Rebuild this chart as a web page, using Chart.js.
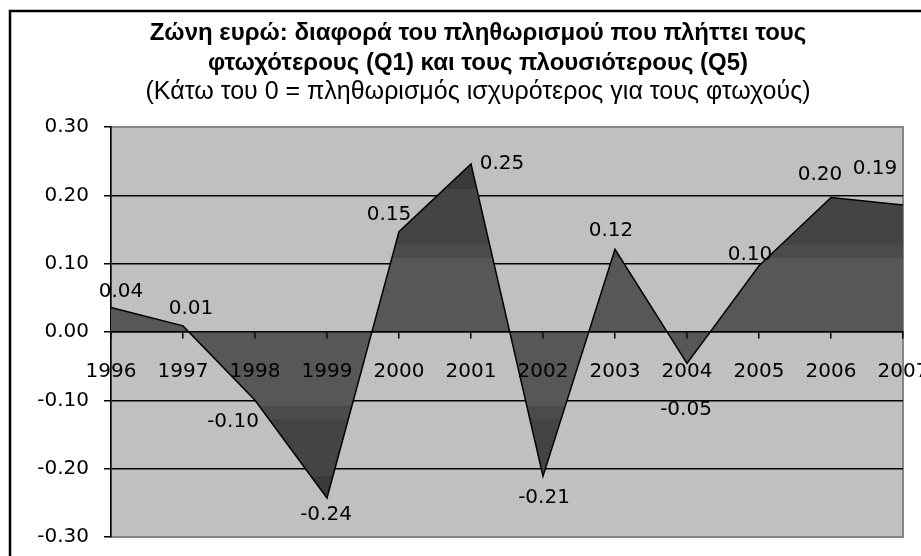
<!DOCTYPE html>
<html>
<head>
<meta charset="utf-8">
<script src="https://cdn.jsdelivr.net/npm/chart.js@4.4.1/dist/chart.umd.min.js"></script>
<style>
html, body { margin: 0; padding: 0; background: #fff; }
#wrap { width: 921px; height: 556px; position: relative; }
</style>
</head>
<body>
<div id="wrap"><canvas id="chart"></canvas></div>
<script>
// data
const years = ['1996', '1997', '1998', '1999', '2000', '2001', '2002', '2003', '2004', '2005', '2006', '2007'];
const gap = [0.036, 0.009, -0.10, -0.243, 0.147, 0.246, -0.211, 0.121, -0.046, 0.097, 0.197, 0.186];
const yTicks = [-0.3, -0.2, -0.1, 0, 0.1, 0.2, 0.3];
const titleLines = ['Ζώνη ευρώ: διαφορά του πληθωρισμού που πλήττει τους', 'φτωχότερους (Q1) και τους πλουσιότερους (Q5)'];
const subtitleText = '(Κάτω του 0 = πληθωρισμός ισχυρότερος για τους φτωχούς)';

// where each value label sits relative to its point (px)
const labelShift = [[10, -16], [8, -17], [-22, 21], [-1, 17], [-10, -17], [31, 0], [1, 22], [-4, -19], [-1, 46], [-9, -11], [-11, -23], [-28, -36]];

const FONT = 'DejaVu Sans';

function areaFill(context) {
    const chart = context.chart;
    const area = chart.chartArea;
    if (!area) return '#575757';
    const y = chart.scales.y;
    const g = chart.ctx.createLinearGradient(0, area.top, 0, area.bottom);
    const off = v => Math.min(1, Math.max(0, (y.getPixelForValue(v) - area.top) / (area.bottom - area.top)));
    const bands = [
        [0.3, 0.21, '#3a3a3a'], [0.21, 0.128, '#444444'], [0.128, 0.109, '#4b4b4b'],
        [0.109, -0.109, '#575757'],
        [-0.109, -0.128, '#4b4b4b'], [-0.128, -0.21, '#444444'], [-0.21, -0.3, '#3a3a3a']
    ];
    bands.forEach(b => {
        g.addColorStop(off(b[0]), b[2]);
        g.addColorStop(off(b[1]), b[2]);
    });
    return g;
}

const backdrop = {
    id: 'backdrop',
    beforeDraw(chart) {
        const {ctx, chartArea: a} = chart;
        ctx.save();
        ctx.fillStyle = '#fff';
        ctx.fillRect(0, 0, chart.width, chart.height);
        ctx.strokeStyle = '#000';
        ctx.lineWidth = 2.5;
        ctx.strokeRect(10, 11, 1200, 1200);
        ctx.fillStyle = '#c0c0c0';
        ctx.fillRect(a.left, a.top, a.right - a.left, a.bottom - a.top);
        ctx.strokeStyle = '#858585';
        ctx.lineWidth = 2;
        ctx.strokeRect(a.left, a.top, a.right - a.left, a.bottom - a.top);
        ctx.restore();
    }
};

const valueLabels = {
    id: 'valueLabels',
    afterDraw(chart) {
        const ctx = chart.ctx;
        const pts = chart.getDatasetMeta(0).data;
        ctx.save();
        ctx.font = '20px "' + FONT + '"';
        ctx.fillStyle = '#000';
        ctx.textAlign = 'center';
        ctx.textBaseline = 'middle';
        pts.forEach((p, i) => {
            const s = labelShift[i];
            ctx.fillText(gap[i].toFixed(2), p.x + s[0], p.y + s[1]);
        });
        ctx.restore();
    }
};

new Chart(document.getElementById('chart'), {
    type: 'line',
    data: {
        labels: years,
        datasets: [{
            data: gap,
            fill: 'origin',
            backgroundColor: areaFill,
            borderColor: '#000',
            borderWidth: 1.5,
            tension: 0,
            pointRadius: 0
        }]
    },
    options: {
        responsive: true,
        maintainAspectRatio: false,
        animation: false,
        layout: { padding: { left: 35, right: 0, top: 12, bottom: 19 } },
        plugins: {
            legend: { display: false },
            tooltip: { enabled: false },
            title: {
                display: true,
                text: titleLines,
                color: '#000',
                font: { family: 'Liberation Sans', size: 24, weight: 'bold', lineHeight: 1.23 },
                padding: { top: 7, bottom: 0 }
            },
            subtitle: {
                display: true,
                text: subtitleText,
                color: '#000',
                font: { family: 'Liberation Sans', size: 25, weight: 'normal', lineHeight: 1.16 },
                padding: { top: 0, bottom: 20 }
            }
        },
        scales: {
            x: {
                position: { y: 0 },
                offset: false,
                grid: { drawOnChartArea: false, drawTicks: true, tickLength: 6, color: '#000', lineWidth: 1.5, z: 1 },
                border: { display: true, color: '#000', width: 1.5, z: 1 },
                ticks: { color: '#000', font: { family: FONT, size: 20 }, padding: 22, maxRotation: 0, autoSkip: false, z: 1 },
                afterFit(s) { s.paddingLeft = 0; s.paddingRight = 18; }
            },
            y: {
                min: -0.3,
                max: 0.3,
                afterBuildTicks(s) { s.ticks = yTicks.map(v => ({ value: v })); },
                grid: {
                    color: c => (c.tick && Math.abs(Math.abs(c.tick.value) - 0.3) < 1e-6) ? 'rgba(0,0,0,0)' : '#000',
                    tickColor: '#000',
                    lineWidth: 1.5,
                    tickLength: 7
                },
                border: { display: true, color: '#000', width: 1.5 },
                ticks: { color: '#000', font: { family: FONT, size: 20 }, padding: 15, callback: v => v.toFixed(2) },
                afterFit(s) { s.width = 76; s.paddingTop = 0; s.paddingBottom = 0; }
            }
        }
    },
    plugins: [backdrop, valueLabels]
});
</script>
</body>
</html>
